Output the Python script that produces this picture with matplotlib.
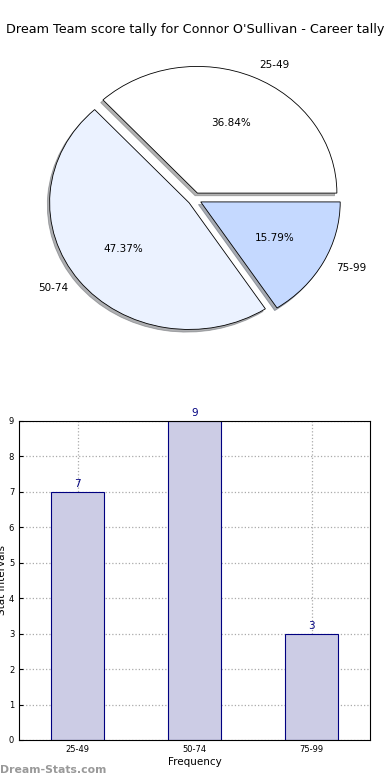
import matplotlib
matplotlib.use("Agg")
import matplotlib.pyplot as plt

# data
categories = ["25-49", "50-74", "75-99"]
counts = [7, 9, 3]
pie_colors = ["#FFFFFF", "#EBF2FF", "#C5D9FF"]

fig = plt.figure(figsize=(3.9, 7.8), dpi=100)

fig.text(0.5, 0.962, "Dream Team score tally for Connor O'Sullivan - Career tally",
         ha="center", va="center", fontsize=9.2)

# 1. PIE (slightly stretched, like the original)
ax1 = fig.add_axes([0.052, 0.542, 0.894, 0.406])
wedges, texts, autotexts = ax1.pie(
    counts, labels=categories, colors=pie_colors, autopct="%.2f%%",
    explode=[0.05] * len(counts), startangle=0,
    shadow={"ox": -0.012, "oy": -0.015, "shade": 0.6},
    wedgeprops={"edgecolor": "black", "linewidth": 0.6},
    textprops={"fontsize": 7.5})
ax1.set_aspect("auto")
ax1.set_xlim(-1.25, 1.25)
ax1.set_ylim(-1.25, 1.25)

# 2. BAR CHART
ax2 = fig.add_axes([0.049, 0.0513, 0.9, 0.409])
xs = range(len(categories))
bars = ax2.bar(xs, counts, width=0.45, color="#CCCCE5", edgecolor="#000080", linewidth=0.8)
for x, v in zip(xs, counts):
    ax2.text(x, v + 0.08, str(v), ha="center", va="bottom", fontsize=7.5, color="#000080")

ax2.set_xlim(-0.5, 2.5)
ax2.set_ylim(0, 9)
ax2.set_xticks(list(xs))
ax2.set_xticklabels(categories)
ax2.set_yticks(range(0, 10))
ax2.tick_params(labelsize=6, direction="in", length=3)
ax2.grid(True, linestyle=":", color="#AAAAAA", linewidth=0.9)
ax2.set_axisbelow(True)
ax2.set_xlabel("Frequency", fontsize=7.5, labelpad=2)
ax2.set_ylabel("Stat Intervals", fontsize=7.5, labelpad=1)

fig.text(0.0, 0.013, "Dream-Stats.com", fontsize=7.8, color="#999999",
         fontweight="bold", ha="left", va="center")

fig.savefig("out.png", dpi=100)
